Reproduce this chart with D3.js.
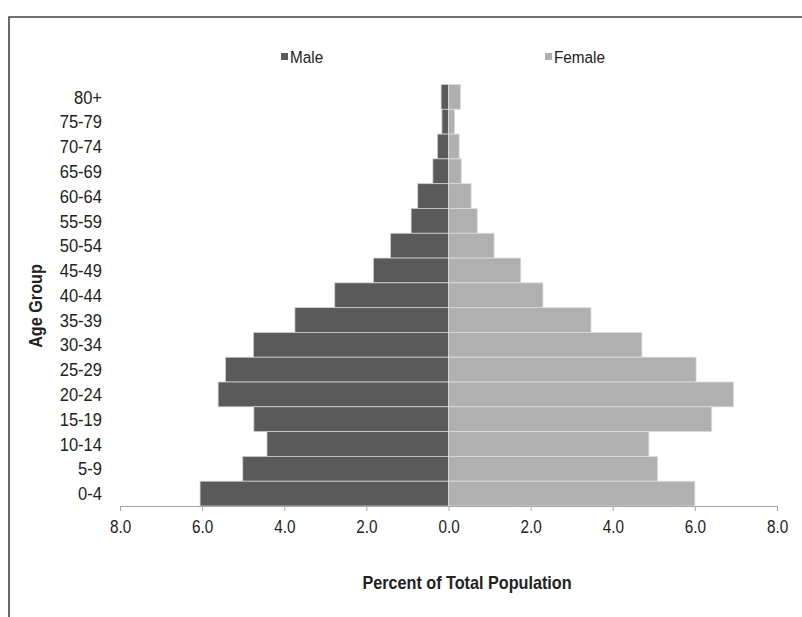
<!DOCTYPE html>
<html>
  <head>
    <meta charset="utf-8">
    <title>Population pyramid</title>
    <script src="https://d3js.org/d3.v7.min.js"></script>
    <style>
      body { margin: 0; background: #fff; }
      svg text { font-family: 'Liberation Sans', Arial, sans-serif; fill: #222; }
    </style>
  </head>
  <body>
    <div id="chart"></div>
    <script>
      // data, top row first
      var ageGroups = ["80+", "75-79", "70-74", "65-69", "60-64", "55-59", "50-54", "45-49", "40-44",
        "35-39", "30-34", "25-29", "20-24", "15-19", "10-14", "5-9", "0-4"];
      var male = [0.18, 0.16, 0.27, 0.38, 0.75, 0.91, 1.41, 1.83, 2.77, 3.74, 4.75, 5.43, 5.61, 4.74, 4.42, 5.01, 6.05];
      var female = [0.29, 0.15, 0.26, 0.31, 0.55, 0.70, 1.11, 1.76, 2.30, 3.47, 4.71, 6.03, 6.94, 6.41, 4.88, 5.09, 6.00];
      var xTicks = [-8, -6, -4, -2, 0, 2, 4, 6, 8];

      var width = 802, height = 617;
      var svg = d3.select("#chart").append("svg")
        .attr("width", width)
        .attr("height", height);

      // frame (left and top edges only show)
      svg.append("path")
        .attr("d", "M9," + height + "V17H" + width)
        .attr("fill", "none")
        .attr("stroke", "#444")
        .attr("stroke-width", 1.6);

      var x = d3.scaleLinear().domain([-8, 8]).range([120, 777]);
      var y = d3.scaleBand().domain(ageGroups).range([84.5, 506]).padding(0);

      // bars
      svg.append("g").selectAll("rect.male")
        .data(ageGroups)
        .enter().append("rect")
          .attr("class", "male")
          .attr("x", function(d, i) { return x(-male[i]); })
          .attr("y", function(d) { return y(d); })
          .attr("width", function(d, i) { return x(0) - x(-male[i]); })
          .attr("height", y.bandwidth())
          .attr("fill", "#5a5a5a")
          .attr("stroke", "#cfcfcf")
          .attr("stroke-width", 0.8);
      svg.append("g").selectAll("rect.female")
        .data(ageGroups)
        .enter().append("rect")
          .attr("class", "female")
          .attr("x", x(0))
          .attr("y", function(d) { return y(d); })
          .attr("width", function(d, i) { return x(female[i]) - x(0); })
          .attr("height", y.bandwidth())
          .attr("fill", "#b0b0b0")
          .attr("stroke", "#dcdcdc")
          .attr("stroke-width", 0.8);

      // x axis
      var xAxis = svg.append("g")
        .attr("transform", "translate(0,506)")
        .call(d3.axisBottom(x)
          .tickValues(xTicks)
          .tickSize(5)
          .tickSizeOuter(0)
          .tickPadding(9)
          .tickFormat(function(d) { return Math.abs(d).toFixed(1); }));
      xAxis.select(".domain").attr("stroke", "#a8a8a8");
      xAxis.selectAll("line").attr("stroke", "#a8a8a8");
      xAxis.selectAll("text")
        .attr("fill", "#222")
        .attr("transform", "scale(0.85,1)")
        .style("font-size", "18px");

      // y labels, squeezed: the original uses a narrow face
      svg.append("g").selectAll("text")
        .data(ageGroups)
        .enter().append("text")
          .attr("transform", function(d) {
            return "translate(102," + (y(d) + y.bandwidth() / 2) + ") scale(0.87,1)";
          })
          .attr("dy", "0.35em")
          .attr("text-anchor", "end")
          .style("font-size", "19px")
          .text(function(d) { return d; });

      // axis titles
      svg.append("text")
        .attr("transform", "translate(467,589) scale(0.9,1)")
        .attr("text-anchor", "middle")
        .style("font-size", "18px")
        .style("font-weight", "bold")
        .text("Percent of Total Population");
      svg.append("text")
        .attr("transform", "translate(42,306) rotate(-90) scale(0.9,1)")
        .attr("text-anchor", "middle")
        .style("font-size", "18px")
        .style("font-weight", "bold")
        .text("Age Group");

      // legend
      var legend = svg.append("g").selectAll("g")
        .data([{ name: "Male", color: "#5a5a5a", x: 281 }, { name: "Female", color: "#b0b0b0", x: 545 }])
        .enter().append("g")
          .attr("transform", function(d) { return "translate(" + d.x + ",57)"; });
      legend.append("rect")
        .attr("x", 0).attr("y", -4)
        .attr("width", 7).attr("height", 7)
        .attr("fill", function(d) { return d.color; });
      legend.append("text")
        .attr("transform", "translate(9,0) scale(0.9,1)")
        .attr("dy", "0.35em")
        .style("font-size", "17px")
        .text(function(d) { return d.name; });
    </script>
  </body>
</html>
